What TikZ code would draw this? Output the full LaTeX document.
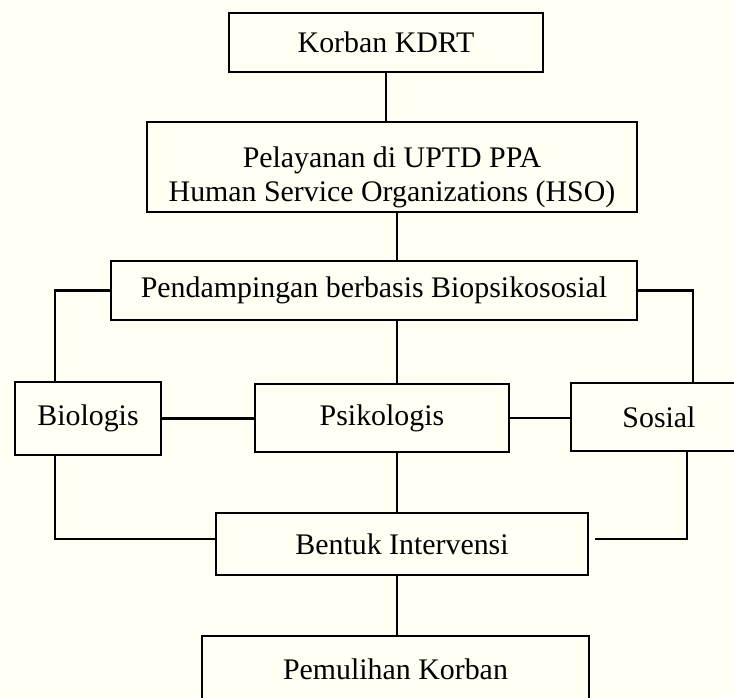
\documentclass[tikz,border=0pt]{standalone}
\usepackage{fontspec}
\setmainfont{Liberation Serif}
\usetikzlibrary{positioning,calc}
\definecolor{paper}{RGB}{255,255,243}

\begin{document}
\begin{tikzpicture}[
        box/.style={draw=black, line width=1.3pt, align=center, inner sep=0pt,
            font=\fontsize{17pt}{19.5pt}\selectfont},  % cadres
        link/.style={line width=1.3pt}                   % liaisons
    ]

    % (0) Fond et cadre de la page
    \useasboundingbox (0,0) rectangle (14.68,-13.96);
    \fill[paper] (0,0) rectangle (14.68,-13.96);

    % (1) Les cadres, de haut en bas
    \node[box, minimum width=6.28cm, minimum height=1.18cm] (korban) at (7.72,-0.85) {Korban KDRT};
    \node[box, minimum width=9.80cm, minimum height=1.80cm] (pelayanan) at (7.84,-3.34)
        {\rule{0pt}{0.82cm}Pelayanan di UPTD PPA\\Human Service Organizations (HSO)};
    \node[box, minimum width=10.52cm, minimum height=1.18cm] (pendampingan) at (7.48,-5.81)
        {Pendampingan berbasis Biopsikososial};

    % (2) Les trois aspects
    \node[box, minimum width=2.92cm, minimum height=1.46cm] (biologis) at (1.76,-8.37) {Biologis};
    \node[box, minimum width=5.08cm, minimum height=1.36cm] (psikologis) at (7.64,-8.36) {Psikologis};
    \node[box, minimum width=3.52cm, minimum height=1.36cm] (sosial) at (13.18,-8.34) {Sosial};

    % (3) Intervention et résultat
    \node[box, minimum width=7.44cm, minimum height=1.24cm] (intervensi) at (8.04,-10.88) {Bentuk Intervensi};
    \node[box, minimum width=7.74cm, minimum height=1.32cm] (pemulihan) at (7.91,-13.38) {Pemulihan Korban};

    % (4) Axe central et bus latéraux
    \coordinate (spine) at (7.94,0);
    \coordinate (leftbus) at (1.10,0);
    \coordinate (rightbus) at (13.86,0);
    \coordinate (sosialbus) at (13.74,0);

    \draw[link] (korban.south) -- (korban.south |- pelayanan.north);
    \draw[link] (pelayanan.south -| spine) -- (pendampingan.north -| spine);
    \draw[link] (pendampingan.south -| spine) -- (psikologis.north -| spine);
    \draw[link] (psikologis.south -| spine) -- (intervensi.north -| spine);
    \draw[link] (intervensi.south -| spine) -- (pemulihan.north -| spine);

    % (5) Branches gauche et droite
    \draw[link] (pendampingan.west) -| (leftbus |- biologis.north);
    \draw[link] (pendampingan.east) -| (rightbus |- sosial.north);
    \draw[link] (biologis.east) -- (biologis.east -| psikologis.west);
    \draw[link] (psikologis.east) -- (psikologis.east -| sosial.west);
    \draw[link] (leftbus |- biologis.south) |- ([yshift=0.1cm]intervensi.west);
    \draw[link, shorten >=0.12cm] (sosialbus |- sosial.south) |- ([yshift=0.1cm]intervensi.east);

\end{tikzpicture}
\end{document}
